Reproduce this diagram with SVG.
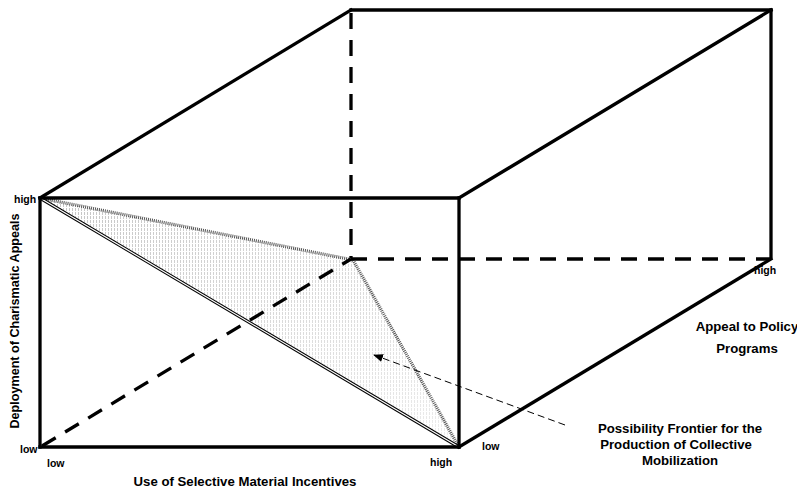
<svg xmlns="http://www.w3.org/2000/svg" width="797" height="492" viewBox="0 0 797 492">
<style>
.e{stroke:#000;stroke-width:3.3;fill:none;stroke-linecap:square}
.d{stroke:#000;stroke-width:3.3;fill:none;stroke-dasharray:16 11}
.t{font-family:"Liberation Sans",Arial,sans-serif;font-weight:bold;fill:#000}
.s{font-size:10.5px}
.m{font-size:13.2px}
.v{font-size:12.6px}
.dbl{stroke:#000;stroke-width:3.2;fill:none}
.dblw{stroke:#fff;stroke-width:1.2;fill:none}
.dot{stroke:#555;stroke-width:3.2;fill:none;stroke-dasharray:1 1}
</style>
<defs>
<pattern id="hatch" width="3" height="4" patternUnits="userSpaceOnUse">
<rect width="3" height="4" fill="#fff"/>
<rect width="1" height="3" fill="#c4c4c4"/>
</pattern>
<linearGradient id="fade" x1="0" y1="0" x2="1" y2="1">
<stop offset="0" stop-color="#fff" stop-opacity="0"/>
<stop offset="1" stop-color="#fff" stop-opacity="0.7"/>
</linearGradient>
<marker id="arr" markerWidth="10" markerHeight="8" refX="9" refY="4" orient="auto" markerUnits="userSpaceOnUse">
<path d="M0,0 L10,4 L0,8 Z" fill="#000"/>
</marker>
</defs>
<g id="frontier">
<polygon points="40,198 353,260 459,447" fill="url(#hatch)"/>
<polygon points="40,198 353,260 459,447" fill="url(#fade)"/>
<line class="dot" x1="40" y1="198" x2="353" y2="260"/>
<line class="dot" x1="353" y1="260" x2="459" y2="447"/>
<line class="dbl" x1="40" y1="198" x2="459" y2="447"/>
<line class="dblw" x1="40" y1="198" x2="459" y2="447"/>
</g>
<g id="connectors">
<line class="d" x1="351" y1="13" x2="351" y2="258"/>
<line class="d" x1="351" y1="259" x2="771" y2="259"/>
<line class="d" x1="42" y1="446" x2="351" y2="259"/>
<line class="e" x1="40" y1="198" x2="351" y2="10"/>
<line class="e" x1="459" y1="198" x2="771" y2="10"/>
<line class="e" x1="459" y1="447" x2="771" y2="259"/>
<line class="e" x1="351" y1="10" x2="771" y2="10"/>
<line class="e" x1="771" y1="10" x2="771" y2="257"/>
<line class="e" x1="40" y1="198" x2="459" y2="198"/>
<line class="e" x1="459" y1="198" x2="459" y2="447"/>
<line class="e" x1="40" y1="447" x2="459" y2="447"/>
<line class="e" x1="40" y1="198" x2="40" y2="447"/>
<line x1="565" y1="425" x2="374" y2="355" stroke="#000" stroke-width="1" stroke-dasharray="7 4" marker-end="url(#arr)"/>
</g>
<g id="labels">
<text class="t s" x="14" y="203">high</text>
<text class="t s" x="20" y="453">low</text>
<text class="t s" x="47" y="467">low</text>
<text class="t s" x="430" y="466">high</text>
<text class="t s" x="482" y="450">low</text>
<text class="t s" x="754" y="274">high</text>
<text class="t m" x="245" y="486" text-anchor="middle">Use of Selective Material Incentives</text>
<text class="t v" transform="translate(19,321) rotate(-90)" text-anchor="middle">Deployment of Charismatic Appeals</text>
<text class="t m" x="747" y="331" text-anchor="middle">Appeal to Policy</text>
<text class="t m" x="747" y="353" text-anchor="middle">Programs</text>
<text class="t m" x="680" y="433" text-anchor="middle">Possibility Frontier for the</text>
<text class="t m" x="676" y="449" text-anchor="middle">Production of Collective</text>
<text class="t m" x="680" y="465" text-anchor="middle">Mobilization</text>
</g>
</svg>
